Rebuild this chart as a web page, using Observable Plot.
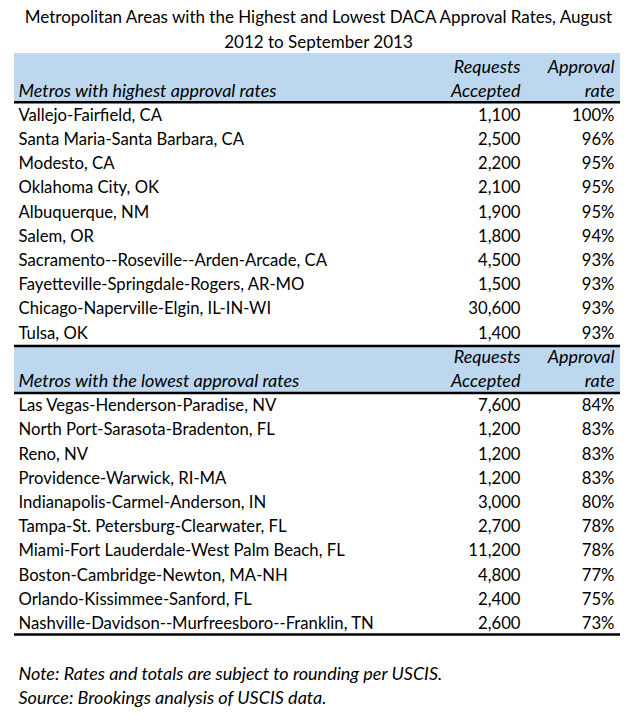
<!DOCTYPE html>
<html>
<head>
<meta charset="utf-8">
<script src="https://cdn.jsdelivr.net/npm/d3@7"></script>
<script src="https://cdn.jsdelivr.net/npm/@observablehq/plot@0.6"></script>
<style>
  html, body { margin: 0; padding: 0; background: #fff; }
</style>
</head>
<body>
<div id="chart"></div>
<script>
const titleLines = [
  "Metropolitan Areas with the Highest and Lowest DACA Approval Rates, August",
  "2012 to September 2013"
];
const highHeader = "Metros with highest approval rates";
const lowHeader = "Metros with the lowest approval rates";
const colHeader1 = ["Requests", "Accepted"];
const colHeader2 = ["Approval", "rate"];

const highMetros = [
  "Vallejo-Fairfield, CA",
  "Santa Maria-Santa Barbara, CA",
  "Modesto, CA",
  "Oklahoma City, OK",
  "Albuquerque, NM",
  "Salem, OR",
  "Sacramento--Roseville--Arden-Arcade, CA",
  "Fayetteville-Springdale-Rogers, AR-MO",
  "Chicago-Naperville-Elgin, IL-IN-WI",
  "Tulsa, OK"
];
const highRequests = [1100, 2500, 2200, 2100, 1900, 1800, 4500, 1500, 30600, 1400];
const highRates = [100, 96, 95, 95, 95, 94, 93, 93, 93, 93];

const lowMetros = [
  "Las Vegas-Henderson-Paradise, NV",
  "North Port-Sarasota-Bradenton, FL",
  "Reno, NV",
  "Providence-Warwick, RI-MA",
  "Indianapolis-Carmel-Anderson, IN",
  "Tampa-St. Petersburg-Clearwater, FL",
  "Miami-Fort Lauderdale-West Palm Beach, FL",
  "Boston-Cambridge-Newton, MA-NH",
  "Orlando-Kissimmee-Sanford, FL",
  "Nashville-Davidson--Murfreesboro--Franklin, TN"
];
const lowRequests = [7600, 1200, 1200, 1200, 3000, 2700, 11200, 4800, 2400, 2600];
const lowRates = [84, 83, 83, 83, 80, 78, 78, 77, 75, 73];

const notes = [
  "Note: Rates and totals are subject to rounding per USCIS.",
  "Source: Brookings analysis of USCIS data."
];

// ---- layout (row units) ----
const W = 636, H = 725;
const pitch = 24.2, row0 = 115;
const xLeft = 14, xRight = 620;
const xName = 18, xReq = 520, xRate = 614;

const rows = [];
highMetros.forEach((m, i) => rows.push({r: i, name: m, req: highRequests[i], rate: highRates[i]}));
lowMetros.forEach((m, i) => rows.push({r: 12 + i, name: m, req: lowRequests[i], rate: lowRates[i]}));

const headers = [
  {r1: -2.56, r2: -0.58, top: -2, bottom: -1, label: highHeader},
  {r1: 9.55, r2: 11.45, top: 10, bottom: 11, label: lowHeader}
];
const lines = [-0.55, 9.52, 11.47, 21.45];

const fmtNum = d3.format(",");
const font = "Lato, 'Open Sans', sans-serif";
const fs = 16.7;
const fsi = 18;

const plot = Plot.plot({
  width: W,
  height: H,
  margin: 0,
  style: {fontFamily: font, fontSize: fs + "px", background: "#fff", color: "#000"},
  x: {domain: [0, W], range: [0, W], axis: null},
  y: {domain: [-row0 / pitch, (H - row0) / pitch], range: [0, H], axis: null},
  marks: [
    Plot.rect(headers, {x1: xLeft, x2: xRight, y1: "r1", y2: "r2", fill: "#BDD7EE"}),
    Plot.ruleY(lines, {x1: xLeft, x2: xRight, stroke: "#000", strokeWidth: 2.5}),
    // title
    Plot.text(titleLines, {x: W / 2, y: (d, i) => -4.05 + i * 1.03, text: d => d, textAnchor: "middle", fontSize: 17}),
    // header labels
    Plot.text(headers, {x: xName, y: "bottom", text: "label", textAnchor: "start", fontStyle: "italic", fontSize: fsi}),
    Plot.text(headers, {x: xReq, y: "top", text: () => colHeader1[0], textAnchor: "end", fontStyle: "italic", fontSize: fsi}),
    Plot.text(headers, {x: xReq, y: "bottom", text: () => colHeader1[1], textAnchor: "end", fontStyle: "italic", fontSize: fsi}),
    Plot.text(headers, {x: xRate, y: "top", text: () => colHeader2[0], textAnchor: "end", fontStyle: "italic", fontSize: fsi}),
    Plot.text(headers, {x: xRate, y: "bottom", text: () => colHeader2[1], textAnchor: "end", fontStyle: "italic", fontSize: fsi}),
    // rows
    Plot.text(rows, {x: xName, y: "r", text: "name", textAnchor: "start"}),
    Plot.text(rows, {x: xReq, y: "r", text: d => fmtNum(d.req), textAnchor: "end"}),
    Plot.text(rows, {x: xRate, y: "r", text: d => d.rate + "%", textAnchor: "end"}),
    // notes
    Plot.text(notes, {x: xName, y: (d, i) => 23.1 + i * 0.99, text: d => d, textAnchor: "start", fontStyle: "italic", fontSize: fsi})
  ]
});
document.getElementById("chart").appendChild(plot);
</script>
</body>
</html>
